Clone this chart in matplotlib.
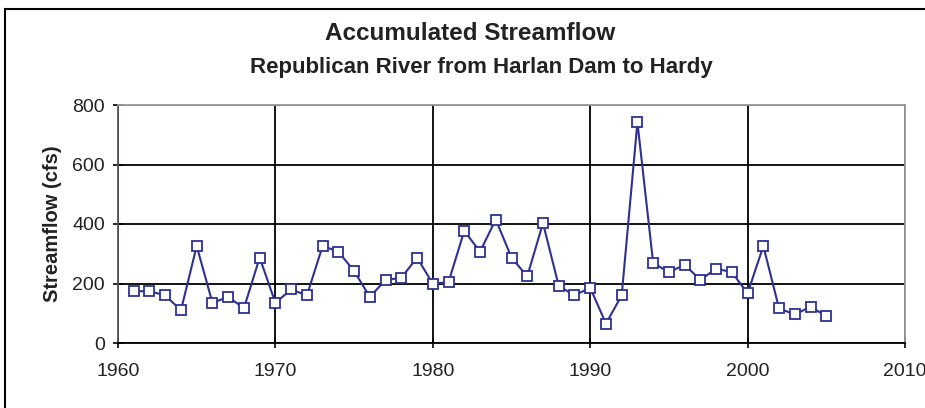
import matplotlib
matplotlib.use("Agg")
import matplotlib.pyplot as plt
from matplotlib.patches import Rectangle

plt.rcParams['font.family'] = ['Liberation Sans', 'DejaVu Sans']

# Data
years = list(range(1961, 2006))
flow = [174, 174, 160, 110, 326, 135, 155, 117, 287, 135,
        180, 160, 326, 307, 242, 155, 212, 219, 287, 199,
        205, 377, 307, 415, 287, 224, 403, 192, 160, 186,
        65, 160, 742, 269, 238, 263, 212, 250, 238, 167,
        326, 116, 96, 122, 90]
x_ticks = [1960, 1970, 1980, 1990, 2000, 2010]
y_ticks = [0, 200, 400, 600, 800]

line_color = '#2E3192'
text_color = '#222222'

fig = plt.figure(figsize=(9.25, 4.08), dpi=100, facecolor='white')
# outer chart border
fig.patches.append(Rectangle((5/925, -0.1), 1.2, (408-9)/408 + 0.1,
                             transform=fig.transFigure, fill=False,
                             edgecolor='black', linewidth=1.5))

ax = fig.add_axes([118/925, 1 - 343/408, (905-118)/925, (343-105)/408])
ax.plot(years, flow, color=line_color, linewidth=1.5, marker='s',
        markersize=7, markerfacecolor='white', markeredgecolor=line_color,
        markeredgewidth=1.3, zorder=3)

ax.set_xlim(1960, 2010)
ax.set_ylim(0, 800)
ax.set_xticks(x_ticks)
ax.set_yticks(y_ticks)
ax.grid(True, color='black', linewidth=1.3)
ax.set_axisbelow(True)

for side in ['top', 'right']:
    ax.spines[side].set_color('#9a9a9a')
    ax.spines[side].set_linewidth(1.3)
ax.spines['left'].set_color('#505a5a')
ax.spines['left'].set_linewidth(1.3)
ax.spines['bottom'].set_color('black')
ax.spines['bottom'].set_linewidth(1.3)

ax.tick_params(axis='both', labelsize=14, labelcolor=text_color,
               colors='black', direction='inout', length=7, width=1.2)
ax.tick_params(axis='y', pad=6)
ax.tick_params(axis='x', pad=11)
ax.set_ylabel('Streamflow (cfs)', fontsize=14.5, fontweight='bold',
              color=text_color, labelpad=7)

fig.text(470/925, 1 - 34/408, 'Accumulated Streamflow', ha='center',
         va='center', fontsize=17.5, fontweight='bold', color=text_color)
fig.text(481/925, 1 - 67/408, 'Republican River from Harlan Dam to Hardy',
         ha='center', va='center', fontsize=16, fontweight='bold',
         color=text_color)

fig.savefig('out.png', dpi=100, facecolor='white')
